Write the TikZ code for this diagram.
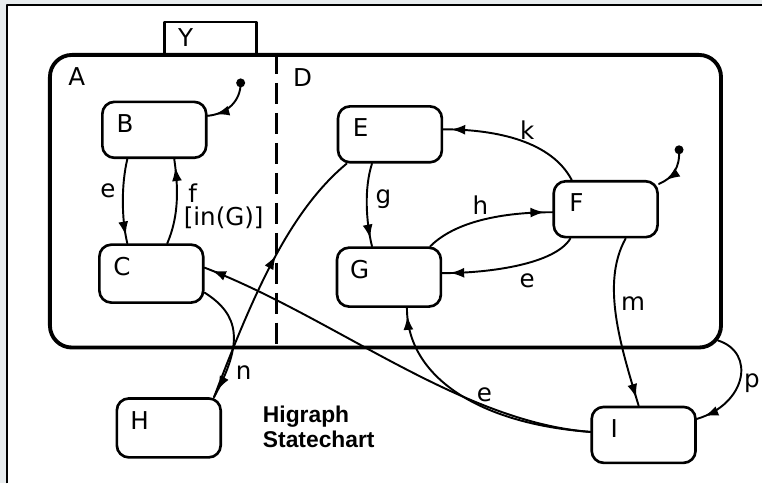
\documentclass[tikz,border=0pt]{standalone}
\usepackage{fontspec}
\setmainfont{DejaVu Sans}
\newfontfamily\titlefont{Liberation Sans}
\usetikzlibrary{calc,arrows.meta,decorations.markings}
\definecolor{pagegray}{RGB}{232,236,238}

\tikzset{
  statetip/.tip={Latex[length=2.8mm, width=2mm]},
  state/.style={draw, line width=1.5pt, rounded corners=2.4mm,
    minimum width=20.8mm, minimum height=11.2mm, inner sep=0pt},
  sname/.style={label={[anchor=center, inner sep=0pt, xshift=4.8mm, yshift=-4.6mm]north west:#1}},
  trans/.style={line width=1.1pt, postaction=decorate,
    decoration={markings, mark=at position -1.6mm with {\arrow{statetip}}}},
  midtrans/.style={line width=1.1pt, postaction=decorate,
    decoration={markings, mark=at position 0.57 with {\arrow{statetip}}}},
  lbl/.style={inner sep=0pt},
}

\begin{document}
\begin{tikzpicture}[x=0.2mm, y=-0.2mm, font=\fontsize{14}{16}\selectfont,
  line cap=round, line join=round]

% fond et cadre
\fill[pagegray] (0,0) rectangle (763,484);
\fill[white] (7,5) rectangle (763,484);
\draw[line width=1.2pt, line cap=butt] (7,484) -- (7,5) -- (763,5);

% onglet Y et super-etat A | D
\node[draw, line width=1.5pt, minimum width=18.4mm, minimum height=6.4mm] (Y) at (211,38) {};
\node[lbl] (Yname) at (186,38) {Y};
\node[draw, line width=2.2pt, rounded corners=4.4mm,
  minimum width=134.4mm, minimum height=58.6mm] (AD) at (386,201.5) {};
\node[lbl] (Aname) at (77,77) {A};
\node[lbl] (Dname) at (303,78) {D};

% separation des composantes (trait interrompu)
\coordinate (split) at (277,0);
\draw[line width=1.5pt, line cap=butt, dash pattern=on 4.2mm off 1.8mm]
  (split |- AD.north) -- (split |- AD.south);

% etats
\node[state, sname=B] (B) at (154.5,130) {};
\node[state, sname=C, minimum height=11.6mm] (C) at (151.5,274) {};
\node[state, sname=E] (E) at (390.5,134.5) {};
\node[state, sname=F] (F) at (606.5,209.5) {};
\node[state, sname=G, minimum height=11.8mm] (G) at (389.5,277.5) {};
\node[state, sname=H, minimum height=11.8mm] (H) at (169,428.5) {};
\node[state, sname=I] (I) at (644.5,435.5) {};

% etats initiaux
\coordinate (dotB) at (241,83);
\coordinate (dotF) at (680,150);
\fill (dotB) circle (0.9mm);
\fill (dotF) circle (0.9mm);
\draw[trans] (dotB) .. controls +(0,18) and +(20,-2) .. ($(B.east)+(0,-14)$);
\draw[trans] (dotF) .. controls +(1,18) and +(14,-6) .. ($(F.north east)+(0,4)$);

% transitions dans A
\draw[trans] ($(B.south)+(-27,0)$) .. controls +(-6,25) and +(-6,-25) .. ($(C.north)+(-24,0)$);
\draw[trans] ($(C.north)+(16,0)$) .. controls +(12,-28) and +(4,28) .. ($(B.south)+(20,0)$);
\node[lbl] (eBC) at (108,191) {e};
\node[lbl] (fCB) at (193,193) {f};
\node[lbl] (guardCB) at (224,218) {[in(G)]};

% transitions dans D
\draw[trans] ($(F.north)+(-34,0)$) .. controls +(-20,-38) and +(55,0) .. ($(E.east)+(0,-5)$);
\draw[trans] ($(E.south)+(-18,0)$) .. controls +(-8,25) and +(-6,-25) .. ($(G.north)+(-17,0)$);
\draw[trans] ($(G.north east)+(-12,0)$) .. controls +(25,-25) and +(-50,0) .. ($(F.west)+(0,3)$);
\draw[trans] ($(F.south west)+(18,0)$) .. controls +(-15,25) and +(50,0) .. ($(G.east)+(0,-4)$);
\node[lbl] (kFE) at (528,130) {k};
\node[lbl] (gEG) at (384,199) {g};
\node[lbl] (hGF) at (481,205) {h};
\node[lbl] (eFG) at (528,281) {e};

% transitions vers et depuis l'exterieur
\draw[trans] ($(F.south)+(20,0)$) .. controls +(-25,45) and +(-18,-60) .. ($(I.north)+(-5,0)$);
\draw[trans] ($(AD.south east)+(-5,-9)$) .. controls +(38,12) and +(50,-15) .. ($(I.east)+(0,-16)$);
\draw[trans] ($(I.west)+(0,-3)$) .. controls +(-110,-8) and +(0,70) .. ($(G.south)+(18,0)$);
\draw[trans] ($(I.west)+(0,-3)$) .. controls +(-130,-10) and +(130,50) .. ($(C.east)+(0,-6)$);
\draw[trans] ($(C.east)+(0,19)$) .. controls +(35,22) and +(30,-55) .. ($(H.north east)+(-8,0)$);
\draw[midtrans] ($(H.north east)+(-8,0)$) .. controls +(38,-100) and +(-58,48) .. ($(E.south west)+(10,0)$);
\node[lbl] (mFI) at (634,304) {m};
\node[lbl] (pADI) at (753,384) {p};
\node[lbl] (eIG) at (485,395) {e};
\node[lbl] (nCH) at (244,373) {n};

% titre
\node[lbl, anchor=base west, font=\titlefont\fontsize{13}{15}\selectfont\bfseries] (title1) at (263,423) {Higraph};
\node[lbl, anchor=base west, font=\titlefont\fontsize{13}{15}\selectfont\bfseries] (title2) at (263,448) {Statechart};

\end{tikzpicture}
\end{document}
